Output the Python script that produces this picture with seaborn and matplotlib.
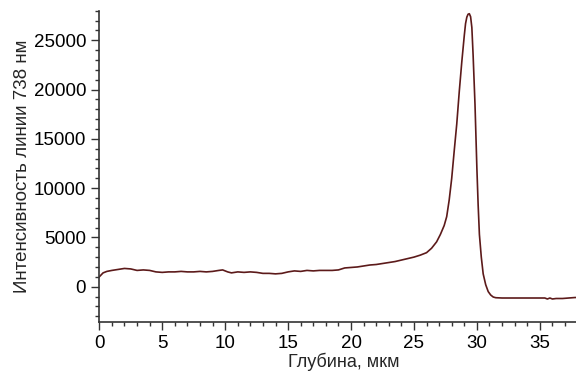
import numpy as np
import pandas as pd
import matplotlib
matplotlib.use("Agg")
import matplotlib.pyplot as plt
from matplotlib.ticker import MultipleLocator
import seaborn as sns

# depth profile
depth = [0.0, 0.3, 0.6, 1.0, 1.5, 2.0, 2.5, 3.0, 3.5, 4.0, 4.5, 5.0, 5.5, 6.0,
         6.5, 7.0, 7.5, 8.0, 8.5, 9.0, 9.5, 9.8, 10.2, 10.5, 11.0, 11.5, 12.0,
         12.5, 13.0, 13.5, 14.0, 14.5, 15.0, 15.5, 16.0, 16.5, 17.0, 17.5, 18.0,
         18.5, 19.0, 19.5, 20.0, 20.5, 21.0, 21.5, 22.0, 22.5, 23.0, 23.5, 24.0,
         24.5, 25.0, 25.5, 26.0, 26.4, 26.8, 27.1, 27.4, 27.6, 27.8, 28.0, 28.2,
         28.4, 28.6, 28.8, 29.0, 29.1, 29.2, 29.3, 29.4, 29.5, 29.6, 29.7,
         29.85, 30.0, 30.1, 30.2, 30.35, 30.5, 30.7, 30.9, 31.1, 31.3, 31.5,
         32.0, 33.0, 34.0, 35.0, 35.4, 35.6, 35.8, 36.0, 36.3, 36.8, 37.3, 37.8,
         38.9]
intensity = [1000, 1400, 1550, 1650, 1750, 1850, 1800, 1650, 1700, 1650, 1500,
             1450, 1500, 1500, 1550, 1500, 1500, 1550, 1500, 1550, 1650, 1700,
             1500, 1400, 1500, 1450, 1500, 1450, 1350, 1350, 1300, 1350, 1500,
             1600, 1550, 1650, 1600, 1650, 1650, 1650, 1700, 1900, 1950, 2000,
             2100, 2200, 2250, 2350, 2450, 2550, 2700, 2850, 3000, 3200, 3450,
             3900, 4550, 5300, 6200, 7100, 8800, 11000, 13800, 16500, 19800,
             22800, 25500, 26700, 27350, 27650, 27700, 27400, 26300, 23500,
             18500, 12000, 8300, 5300, 3000, 1300, 200, -500, -850, -1050,
             -1120, -1150, -1150, -1150, -1150, -1150, -1250, -1150, -1250,
             -1200, -1200, -1150, -1100, -1100]

df = pd.DataFrame({"depth": depth, "intensity": intensity})

sns.set_style("ticks")
plt.rcParams["font.family"] = ["Liberation Sans", "DejaVu Sans"]

fig = plt.figure(figsize=(5.76, 3.71), dpi=100)
ax = fig.add_axes([0.1724, 0.133, 0.85, 0.838])

sns.lineplot(data=df, x="depth", y="intensity", ax=ax, color="#5c1a1a",
             linewidth=1.2)

ax.set_xlim(0, 38.9)
ax.set_ylim(-3550, 28000)
ax.xaxis.set_major_locator(MultipleLocator(5))
ax.xaxis.set_minor_locator(MultipleLocator(1))
ax.yaxis.set_major_locator(MultipleLocator(5000))
ax.yaxis.set_minor_locator(MultipleLocator(1000))
ax.tick_params(which="major", direction="out", length=6, width=1,
               labelsize=13.5, colors="#333333", labelcolor="black")
ax.tick_params(which="minor", direction="out", length=3, width=1,
               colors="#333333")

for side in ["top", "right"]:
    ax.spines[side].set_visible(False)
for side in ["left", "bottom"]:
    ax.spines[side].set_color("#333333")
    ax.spines[side].set_linewidth(1.2)

ax.set_xlabel("Глубина, мкм", fontsize=13, labelpad=0.5)
ax.set_ylabel("Интенсивность линии 738 нм", fontsize=13.5, labelpad=2)

fig.savefig("out.png", dpi=100, facecolor="white")
